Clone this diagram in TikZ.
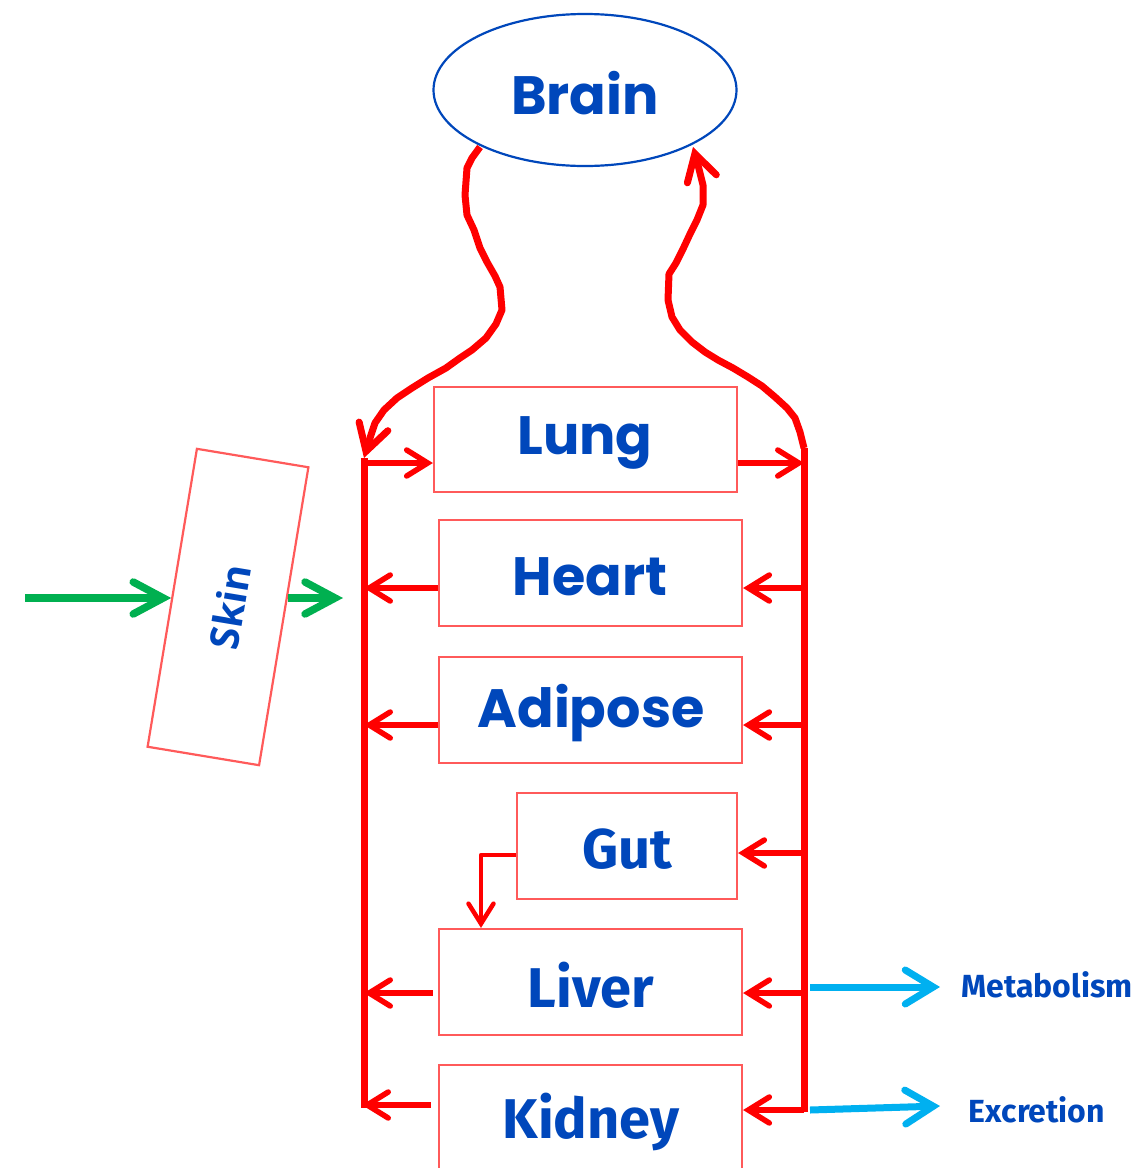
\documentclass[tikz,border=0pt]{standalone}
\usepackage{fontspec}
\setmainfont{Poppins}
\newfontfamily\dinfont{Fira Sans}
\newfontfamily\skinfont{Open Sans}
\usetikzlibrary{arrows.meta,shapes.geometric}
\definecolor{bl}{HTML}{0047BB}
\definecolor{rd}{HTML}{FF0000}
\definecolor{bx}{HTML}{FF5A5A}
\definecolor{gr}{HTML}{00B050}
\definecolor{cy}{HTML}{00B0F0}
\begin{document}
\begin{tikzpicture}[x=1pt,y=-1pt,
  organ/.style={draw=bx,line width=2.2pt,minimum width=303pt,minimum height=106pt,inner sep=0pt,text=bl},
  popp/.style={font=\fontsize{54}{60}\selectfont\bfseries},
  din/.style={font=\dinfont\fontsize{56}{62}\selectfont\bfseries},
  trunk/.style={draw=rd,line width=7pt,line join=round},
  flow/.style={draw=rd,line width=5.5pt,-{Straight Barb[length=21pt,width=26pt,line cap=round]}},
  thinflow/.style={draw=rd,line width=4.5pt,line join=round,-{Straight Barb[length=20pt,width=25pt,line cap=round]}},
  bigflow/.style={draw=rd,line width=7pt,line join=round,-{Straight Barb[length=26pt,width=30pt,line cap=round]}},
  garrow/.style={draw=gr,line width=7.5pt,-{Straight Barb[length=30pt,width=32pt,line cap=round]}},
  carrow/.style={draw=cy,line width=7pt,-{Straight Barb[length=28pt,width=34pt,line cap=round]}},
  lbl/.style={text=bl,font=\dinfont\fontsize{32}{38}\selectfont\bfseries}]
\useasboundingbox (0,0) rectangle (1137,1168);

% brain
\node[draw=bl,line width=2.2pt,ellipse,minimum width=303pt,minimum height=152pt,inner sep=0pt] (brain) at (585,90) {};
\node[text=bl,popp] (brainT) at (585,93) {Brain};

% organ boxes
\node[organ,minimum height=105pt] (lung) at (585.5,439.5) {};
\node[text=bl,popp] (lungT) at (585,443) {Lung};
\node[organ] (heart) at (590.5,573) {};
\node[text=bl,popp] (heartT) at (590,577) {Heart};
\node[organ] (adipose) at (590.5,710) {};
\node[text=bl,popp] (adiposeT) at (591,713) {Adipose};
\node[organ,minimum width=220pt] (gut) at (627,846) {};
\node[text=bl,din] (gutT) at (627,849) {Gut};
\node[organ] (liver) at (590.5,982) {};
\node[text=bl,din] (liverT) at (591,985) {Liver};
\node[organ] (kidney) at (590.5,1118) {};
\node[text=bl,din] (kidneyT) at (591,1122) {Kidney};

% skin
\node[draw=bx,line width=2.2pt,minimum width=302pt,minimum height=113pt,rotate=80.6,inner sep=0pt] (skin) at (228,607) {};
\node[rotate=80.6,text=bl,font=\skinfont\fontsize{40}{44}\selectfont\bfseries] (skinT) at (230,607) {Skin};

% trunk coordinates
\coordinate (Ltop) at (364,458);
\coordinate (Lbot) at (364,1108);
\coordinate (Rtop) at (804,448);
\coordinate (Rbot) at (804,1112);
\coordinate (bL) at (480,147);
\coordinate (bR) at (693,147);

% venous return from brain
\draw[bigflow] (bL) -- (472,158) -- (467,168) -- (465,195) -- (467,215) -- (474,230) -- (480,248) -- (487,262) -- (495,276) -- (500,287) -- (502,310) -- (496,324) -- (486,338) -- (472,350) -- (460,358) -- (446,368) -- (428,378) -- (412,388) -- (397,398) -- (384,410) -- (375,423) -- (370,438) -- (Ltop);
% arterial to brain
\draw[bigflow] (Rtop) -- (800,432) -- (795,418) -- (787,408) -- (775,397) -- (762,386) -- (748,377) -- (733,368) -- (718,360) -- (705,352) -- (692,342) -- (680,330) -- (672,317) -- (668,300) -- (669,274) -- (676,263) -- (683,249) -- (690,234) -- (697,220) -- (703,205) -- (703,185) -- (698,165) -- (bR);

% trunks
\draw[trunk] (Ltop) -- (Lbot);
\draw[trunk] (Rtop) -- (Rbot);

% lung
\coordinate (lungIn) at ([yshift=-23.5pt]lung.west);
\coordinate (lungOut) at ([yshift=-23.5pt]lung.east);
\draw[flow] (Ltop |- lungIn) -- (lungIn);
\draw[flow] (lungOut) -- (Rtop |- lungOut);
% heart
\coordinate (hW) at ([yshift=-15pt]heart.west);
\coordinate (hE) at ([yshift=-15pt]heart.east);
\draw[flow] (hW) -- (Ltop |- hW);
\draw[flow] (Rtop |- hE) -- (hE);
% adipose
\coordinate (aW) at ([yshift=-15pt]adipose.west);
\coordinate (aE) at ([yshift=-15pt]adipose.east);
\draw[flow] (aW) -- (Ltop |- aW);
\draw[flow] (Rtop |- aE) -- (aE);
% gut
\coordinate (gE) at ([yshift=-7pt]gut.east);
\coordinate (gW) at ([yshift=-9pt]gut.west);
\draw[flow] (Rtop |- gE) -- (gE);
\draw[thinflow] (gW) -| ([xshift=-109.5pt]liver.north);
% liver
\coordinate (lvW) at ([yshift=-11pt,xshift=-5pt]liver.west);
\coordinate (lvE) at ([yshift=-11pt]liver.east);
\draw[flow] (lvW) -- (Ltop |- lvW);
\draw[flow] (Rtop |- lvE) -- (lvE);
% kidney
\coordinate (kW) at ([yshift=13pt,xshift=-7pt]kidney.west);
\coordinate (kE) at ([yshift=8pt]kidney.east);
\draw[flow] (kW) -- ([xshift=-2pt]Ltop |- kW);
\draw[flow] (Rbot |- kE) -- (kE);

% skin inputs
\coordinate (gin) at (25,598);
\coordinate (gout1) at (288,598);
\coordinate (gout2) at (343,598);
\draw[garrow] (gin) -- (gin -| skin.north);
\draw[garrow] (gout1) -- (gout2);

% elimination
\coordinate (m1) at (810,987);
\coordinate (m2) at (940,987);
\node[lbl] (metab) at (1047,985) {Metabolism};
\coordinate (e1) at (810,1110);
\coordinate (e2) at (940,1106);
\node[lbl] (excr) at (1037,1110) {Excretion};
\draw[carrow] (m1) -- (m2);
\draw[carrow] (e1) -- (e2);
\end{tikzpicture}
\end{document}
